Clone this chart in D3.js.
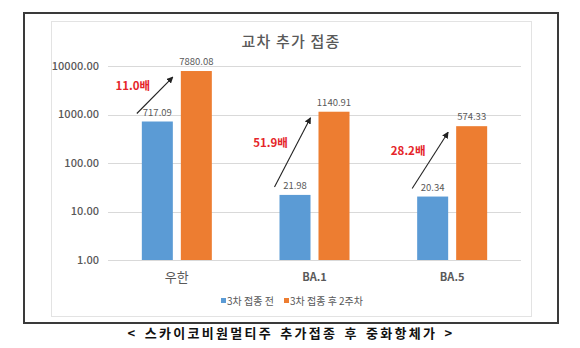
<!DOCTYPE html>
<html>
<head>
<meta charset="utf-8">
<script src="https://cdn.jsdelivr.net/npm/d3@7/dist/d3.min.js"></script>
<style>
  body { margin: 0; background: #fff; }
  svg { display: block; font-family: "Noto Sans CJK KR", "Noto Sans", sans-serif; }
</style>
</head>
<body>
<svg id="chart" width="580" height="348"></svg>
<script>
// --- data
const categories = ['우한', 'BA.1', 'BA.5'];
const seriesNames = ['3차 접종 전', '3차 접종 후 2주차'];
const before = [717.09, 21.98, 20.34];
const after = [7880.08, 1140.91, 574.33];
const yTicks = [1, 10, 100, 1000, 10000];
const title = '교차 추가 접종';
const caption = '< 스카이코비원멀티주 추가접종 후 중화항체가 >';

const colors = ['#5B9BD5', '#ED7D31'];
const gray = '#595959';

const svg = d3.select('#chart');

// frame + inner chart area
svg.append('rect').attr('x', 24).attr('y', 13).attr('width', 534).attr('height', 310)
  .attr('fill', '#fff').attr('stroke', '#3a3a3a').attr('stroke-width', 2);
svg.append('rect').attr('x', 51.5).attr('y', 21.5).attr('width', 480).attr('height', 295)
  .attr('fill', 'none').attr('stroke', '#e3e3e3').attr('stroke-width', 1);

const x = d3.scaleBand().domain(categories).range([108, 521]);
const y = d3.scaleLog().domain([1, 10000]).range([260, 66]);

// gridlines + y labels
const yAxis = svg.append('g');
yTicks.forEach(t => {
  yAxis.append('line').attr('x1', 108).attr('x2', 521)
    .attr('y1', Math.round(y(t)) + 0.5).attr('y2', Math.round(y(t)) + 0.5)
    .attr('stroke', '#d9d9d9');
  yAxis.append('text').attr('x', 99).attr('y', y(t)).attr('dy', '0.35em')
    .attr('text-anchor', 'end').attr('font-size', 11).attr('font-weight', 500)
    .attr('fill', gray).text(d3.format('.2f')(t));
});

// title
svg.append('text').attr('x', 291).attr('y', 42).attr('dy', '0.35em')
  .attr('text-anchor', 'middle').attr('font-size', 15).attr('font-weight', 500)
  .attr('letter-spacing', 1.2).attr('fill', gray).text(title);

const rows = categories.map((c, i) => ({ cat: c, vals: [before[i], after[i]] }));

function x1(c) {
  const cx = x(c) + x.bandwidth() / 2;
  return d3.scaleBand().domain([0, 1]).range([cx - 35, cx + 35]).paddingInner(0.205);
}

// bars
const g = svg.selectAll('.cat').data(rows).enter().append('g').attr('class', 'cat');
g.each(function (d) {
  const s = x1(d.cat);
  const sel = d3.select(this);
  d.vals.forEach((v, j) => {
    sel.append('rect').attr('x', s(j)).attr('y', y(v))
      .attr('width', s.bandwidth()).attr('height', y(1) - y(v))
      .attr('fill', colors[j]);
    sel.append('text').attr('x', s(j) + s.bandwidth() / 2).attr('y', y(v) - 6)
      .attr('text-anchor', 'middle').attr('font-size', 9.5).attr('fill', gray)
      .text(d3.format('.2f')(v));
  });
});

// category labels
categories.forEach((c, i) => {
  svg.append('text').attr('x', x(c) + x.bandwidth() / 2).attr('y', 277).attr('dy', '0.35em')
    .attr('text-anchor', 'middle').attr('font-size', i === 0 ? 13 : 11)
    .attr('font-weight', i === 0 ? 'normal' : 'bold')
    .attr('fill', gray).text(c);
});

// arrows with fold-change labels
svg.append('defs').append('marker').attr('id', 'ah')
  .attr('viewBox', '0 0 10 10').attr('refX', 9).attr('refY', 5)
  .attr('markerWidth', 6).attr('markerHeight', 6).attr('orient', 'auto')
  .append('path').attr('d', 'M0,0L10,5L0,10z').attr('fill', '#222');

rows.forEach(d => {
  const s = x1(d.cat);
  const x0 = s(0) - 5, y0 = y(d.vals[0]) - 8;
  const xe = s(1) - 8, ye = y(d.vals[1]) + 6;
  svg.append('line').attr('x1', x0).attr('y1', y0).attr('x2', xe).attr('y2', ye)
    .attr('stroke', '#222').attr('stroke-width', 1.1).attr('marker-end', 'url(#ah)');
  const ratio = (d.vals[1] / d.vals[0]).toFixed(1) + '배';
  svg.append('text').attr('x', (x0 + xe) / 2 - 22).attr('y', (y0 + ye) / 2 - 9)
    .attr('dy', '0.35em').attr('text-anchor', 'middle')
    .attr('font-size', 11.5).attr('font-weight', 'bold').attr('fill', '#e5252a')
    .text(ratio);
});

// legend
const leg = [{ x: 221 }, { x: 284 }];
seriesNames.forEach((n, j) => {
  svg.append('rect').attr('x', leg[j].x).attr('y', 298).attr('width', 5).attr('height', 5)
    .attr('fill', colors[j]);
  svg.append('text').attr('x', leg[j].x + 6).attr('y', 301).attr('dy', '0.35em')
    .attr('font-size', 10).attr('fill', gray).text(n);
});

// caption
svg.append('text').attr('x', 291).attr('y', 333).attr('dy', '0.35em')
  .attr('text-anchor', 'middle').attr('font-size', 13).attr('font-weight', 'bold')
  .attr('letter-spacing', 2.3).attr('word-spacing', 2).attr('fill', '#111').text(caption);
</script>
</body>
</html>
